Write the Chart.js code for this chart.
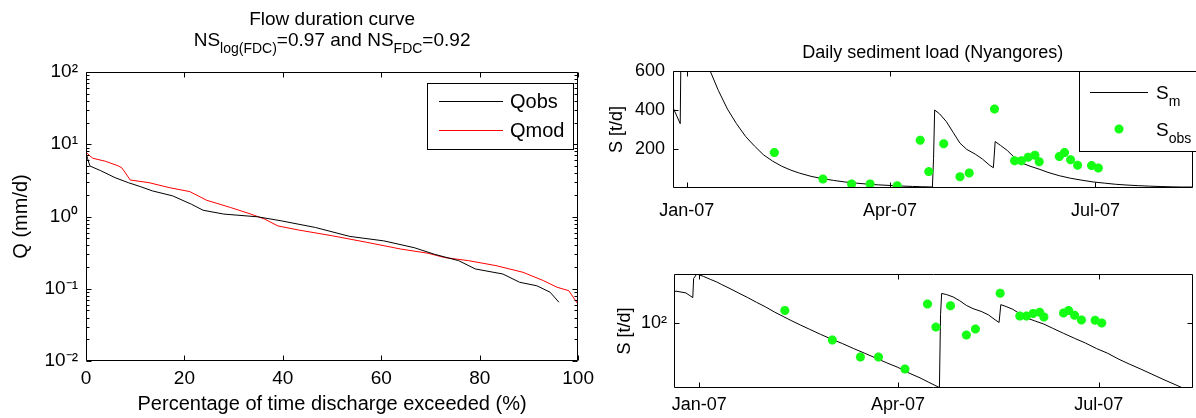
<!DOCTYPE html>
<html>
<head>
<meta charset="utf-8">
<title>Flow duration curve and sediment load</title>
<script src="https://cdn.jsdelivr.net/npm/chart.js@4.4.1/dist/chart.umd.min.js"></script>
<style>
    html, body { margin: 0; padding: 0; background: #fff; overflow: hidden; width: 1196px; height: 418px; }
    canvas { position: absolute; }
    #fdc { left: 0; top: 0; }
    #sedlin { left: 600px; top: 0; }
    #sedlog { left: 600px; top: 230px; }
</style>
</head>
<body>
<canvas id="fdc" width="600" height="418"></canvas>
<canvas id="sedlin" width="600" height="230"></canvas>
<canvas id="sedlog" width="600" height="188"></canvas>
<script>
/* flow duration curve */
var pctObs = [0, 0.3, 0.8, 3, 5.9, 8.6, 11, 13.5, 17.6, 21.4, 23.8, 28, 34.9, 39.7, 46.6, 53.6, 60.5, 66.7, 70.8, 75.7, 79.1, 84.7, 88.1, 91.6, 94.3, 96.1];
var qObs = [7.8, 6.4, 5.0, 4.3, 3.45, 2.94, 2.6, 2.26, 1.93, 1.48, 1.22, 1.08, 0.99, 0.87, 0.705, 0.53, 0.46, 0.37, 0.30, 0.245, 0.188, 0.16, 0.123, 0.11, 0.0895, 0.065];
var pctMod = [0, 0.8, 1.4, 4, 6.6, 7.3, 9, 12.8, 16.9, 21.1, 24.5, 29.4, 33.5, 36.3, 39, 43.2, 50.1, 57, 63.9, 69.5, 72.9, 77.7, 83.3, 88.8, 92.9, 95.7, 98.1, 99.9];
var qMod = [7.8, 6.9, 6.4, 5.8, 5.0, 4.7, 3.2, 2.94, 2.51, 2.21, 1.68, 1.33, 1.08, 0.92, 0.74, 0.65, 0.54, 0.44, 0.355, 0.31, 0.27, 0.245, 0.209, 0.169, 0.13, 0.105, 0.094, 0.062];
var fdcTicks = [0.01, 0.1, 1, 10, 100];
var fdcTickLabels = ['10\u207B\u00B2', '10\u207B\u00B9', '10\u2070', '10\u00B9', '10\u00B2'];

/* daily sediment load, days counted from 1 Jan 2007 */
var dayModel = [-11.4, -10.5, -6, -2.9, -2.5, -1.1, 2, 5, 8, 10, 14, 18, 22, 26, 30, 34, 38, 42, 46, 50, 55, 60, 65, 70, 75, 80, 85, 90, 95, 100, 104, 108.8,
    109.3, 109.8, 112, 115, 118, 121, 124, 128, 131, 134, 135.8, 136.6, 139, 142, 145, 148, 152, 156, 160, 165, 170, 175, 180, 185, 190, 195, 200, 205, 210, 215, 219, 224];
var sModel = [430, 445, 410, 330, 800, 985, 880, 770, 680, 610, 500, 405, 330, 265, 215, 170, 138, 112, 92, 76, 60, 48, 39, 31, 25, 20, 16, 13, 10, 8, 6.5, 5.1,
    150, 400, 380, 340, 285, 230, 198, 172, 148, 118, 104, 238, 218, 192, 158, 130, 112, 97, 80, 63, 50, 40, 31, 25, 19, 15, 12, 9.5, 7.5, 6, 5, 5];
var dayObs = [38.8, 60.3, 73, 81.2, 93.2, 103.4, 107.2, 113.8, 121, 125.1, 136.3, 145.2, 148.2, 151.2, 154.2, 156.1, 165, 167.3, 170, 173.1, 179.3, 182.3];
var sObs = [182, 46, 21, 21, 12, 245, 84, 227, 58, 77, 405, 140, 140, 158, 168, 135, 162, 182, 145, 117, 115, 102];
var dateTicks = [0, 90, 181];
var dateLabels = ['Jan-07', 'Apr-07', 'Jul-07'];

var fontFamily = '"Liberation Sans", Arial, Helvetica, sans-serif';
Chart.defaults.font.family = fontFamily;
Chart.defaults.color = '#000';

function pairs(xs, ys) {
    return xs.map(function (x, i) {
        return { x: x, y: ys[i] };
    });
}

// text with sub/superscript parts: [text, 'sub'|'sup'|'']
function drawRich(ctx, parts, x, y, size, align) {
    var small = Math.round(size * 0.75);
    var w = 0;
    parts.forEach(function (p) {
        ctx.font = (p[1] ? small : size) + 'px ' + fontFamily;
        w += ctx.measureText(p[0]).width;
    });
    var cx = align === 'center' ? x - w / 2 : x;
    parts.forEach(function (p) {
        ctx.font = (p[1] ? small : size) + 'px ' + fontFamily;
        var dy = p[1] === 'sub' ? size * 0.38 : (p[1] === 'sup' ? -size * 0.45 : 0);
        ctx.fillText(p[0], cx, y + dy);
        cx += ctx.measureText(p[0]).width;
    });
}

function drawStar(ctx, x, y, r, color) {
    ctx.save();
    ctx.strokeStyle = color;
    ctx.lineWidth = 3;
    ctx.beginPath();
    for (var k = 0; k < 4; k++) {
        var ang = k * Math.PI / 4;
        ctx.moveTo(x - r * Math.cos(ang), y - r * Math.sin(ang));
        ctx.lineTo(x + r * Math.cos(ang), y + r * Math.sin(ang));
    }
    ctx.stroke();
    ctx.restore();
}

/* matlab style box, inward ticks, legend and title */
var matlabAxes = {
    id: 'matlabAxes',
    afterDatasetsDraw: function (chart, args, opts) {
        var ctx = chart.ctx, a = chart.chartArea;
        var xs = chart.scales.x, ys = chart.scales.y;
        var L = Math.round(a.left) + 0.5, R = Math.round(a.right) - 0.5;
        var T = Math.round(a.top) + 0.5, B = Math.round(a.bottom) - 0.5;
        ctx.save();
        ctx.strokeStyle = '#000';
        ctx.lineWidth = 1;
        ctx.beginPath();
        ctx.moveTo(L, T); ctx.lineTo(R, T); ctx.lineTo(R, B); ctx.lineTo(L, B); ctx.closePath();
        xs.ticks.forEach(function (t) {
            var p = Math.round(xs.getPixelForValue(t.value)) + 0.5;
            ctx.moveTo(p, B); ctx.lineTo(p, B - 5);
            ctx.moveTo(p, T); ctx.lineTo(p, T + 5);
        });
        ys.ticks.forEach(function (t) {
            var p = Math.round(ys.getPixelForValue(t.value)) + 0.5;
            ctx.moveTo(L, p); ctx.lineTo(L + 5, p);
            ctx.moveTo(R, p); ctx.lineTo(R - 5, p);
        });
        if (opts.minor) {
            ys.ticks.slice(0, -1).forEach(function (t) {
                for (var k = 2; k < 10; k++) {
                    var p = Math.round(ys.getPixelForValue(t.value * k)) + 0.5;
                    ctx.moveTo(L, p); ctx.lineTo(L + 3, p);
                    ctx.moveTo(R, p); ctx.lineTo(R - 3, p);
                }
            });
        }
        ctx.stroke();

        var lg = opts.legend;
        if (lg) {
            ctx.fillStyle = '#fff';
            ctx.fillRect(lg.box[0], lg.box[1], lg.box[2], lg.box[3]);
            ctx.strokeRect(lg.box[0] + 0.5, lg.box[1] + 0.5, lg.box[2], lg.box[3]);
            lg.items.forEach(function (it) {
                if (it.kind === 'line') {
                    ctx.strokeStyle = it.color;
                    ctx.beginPath();
                    ctx.moveTo(lg.sample[0], it.y + 0.5);
                    ctx.lineTo(lg.sample[1], it.y + 0.5);
                    ctx.stroke();
                } else {
                    drawStar(ctx, (lg.sample[0] + lg.sample[1]) / 2, it.y, 4.5, it.color);
                }
                ctx.fillStyle = '#000';
                ctx.textBaseline = 'alphabetic';
                drawRich(ctx, it.parts, lg.textX, it.y + lg.size * 0.36, lg.size, 'left');
            });
        }
        ctx.restore();
    },
    afterDraw: function (chart, args, opts) {
        if (!opts.title) return;
        var ctx = chart.ctx, a = chart.chartArea;
        ctx.save();
        ctx.fillStyle = '#000';
        ctx.textBaseline = 'alphabetic';
        opts.title.forEach(function (line) {
            drawRich(ctx, line.parts, (a.left + a.right) / 2, line.y, line.size, 'center');
        });
        ctx.restore();
    }
};

function fixedWidth(w) {
    return function (scale) { scale.width = w; };
}
function fixedHeight(h) {
    return function (scale) { scale.height = h; };
}

/* left: flow duration curve */
new Chart(document.getElementById('fdc'), {
    type: 'line',
    data: {
        datasets: [{
            label: 'Qobs',
            data: pairs(pctObs, qObs),
            borderColor: 'rgb(0, 0, 0)',
            borderWidth: 1,
            pointRadius: 0
        }, {
            label: 'Qmod',
            data: pairs(pctMod, qMod),
            borderColor: 'rgb(255, 0, 0)',
            borderWidth: 1,
            pointRadius: 0
        }]
    },
    options: {
        responsive: false,
        animation: false,
        devicePixelRatio: 1,
        layout: { padding: { left: 0, top: 72, right: 17, bottom: 0 } },
        plugins: {
            legend: { display: false },
            tooltip: { enabled: false },
            matlabAxes: {
                minor: true,
                legend: {
                    box: [427, 83, 146, 66],
                    sample: [439, 503],
                    textX: 510,
                    size: 20,
                    items: [
                        { kind: 'line', color: 'rgb(0, 0, 0)', y: 101, parts: [['Qobs', '']] },
                        { kind: 'line', color: 'rgb(255, 0, 0)', y: 130, parts: [['Qmod', '']] }
                    ]
                },
                title: [
                    { y: 25, size: 19, parts: [['Flow duration curve', '']] },
                    { y: 46, size: 19, parts: [['NS', ''], ['log(FDC)', 'sub'], ['=0.97 and NS', ''], ['FDC', 'sub'], ['=0.92', '']] }
                ]
            }
        },
        scales: {
            x: {
                type: 'linear',
                min: 0,
                max: 100,
                grid: { display: false, drawTicks: false, tickLength: 0 },
                border: { display: false },
                ticks: { stepSize: 20, maxRotation: 0, padding: 6, font: { size: 19 } },
                title: { display: true, text: 'Percentage of time discharge exceeded (%)', font: { size: 20 }, padding: { top: 0, bottom: 2 } },
                afterFit: fixedHeight(57)
            },
            y: {
                type: 'logarithmic',
                min: 0.01,
                max: 100,
                grid: { display: false, drawTicks: false, tickLength: 0 },
                border: { display: false },
                afterBuildTicks: function (scale) {
                    scale.ticks = fdcTicks.map(function (v) { return { value: v }; });
                },
                ticks: {
                    padding: 8,
                    font: { size: 19 },
                    callback: function (v) { return fdcTickLabels[fdcTicks.indexOf(v)]; }
                },
                title: { display: true, text: 'Q (mm/d)', font: { size: 20 }, padding: { top: 9, bottom: 0 } },
                afterFit: fixedWidth(86)
            }
        }
    },
    plugins: [matlabAxes]
});

function dateLabel(v) {
    var i = dateTicks.indexOf(v);
    return i < 0 ? '' : dateLabels[i];
}

/* right top: linear sediment load */
new Chart(document.getElementById('sedlin'), {
    type: 'line',
    data: {
        datasets: [{
            label: 'Sobs',
            data: pairs(dayObs, sObs),
            showLine: false,
            pointStyle: 'star',
            pointRadius: 4.5,
            pointBorderWidth: 3,
            pointBorderColor: 'rgb(20, 255, 20)',
            pointBackgroundColor: 'rgb(20, 255, 20)'
        }, {
            label: 'Sm',
            data: pairs(dayModel, sModel),
            borderColor: 'rgb(0, 0, 0)',
            borderWidth: 1,
            pointRadius: 0
        }]
    },
    options: {
        responsive: false,
        animation: false,
        devicePixelRatio: 1,
        layout: { padding: { left: 0, top: 71, right: 1, bottom: 0 } },
        plugins: {
            legend: { display: false },
            tooltip: { enabled: false },
            matlabAxes: {
                legend: {
                    box: [479, 71, 118, 80],
                    sample: [490, 548],
                    textX: 556,
                    size: 19,
                    items: [
                        { kind: 'line', color: 'rgb(0, 0, 0)', y: 92, parts: [['S', ''], ['m', 'sub']] },
                        { kind: 'point', color: 'rgb(20, 255, 20)', y: 129, parts: [['S', ''], ['obs', 'sub']] }
                    ]
                },
                title: [
                    { y: 58, size: 18, parts: [['Daily sediment load (Nyangores)', '']] }
                ]
            }
        },
        scales: {
            x: {
                type: 'linear',
                min: -6.1,
                max: 224,
                grid: { display: false, drawTicks: false, tickLength: 0 },
                border: { display: false },
                afterBuildTicks: function (scale) {
                    scale.ticks = dateTicks.map(function (v) { return { value: v }; });
                },
                ticks: { maxRotation: 0, padding: 12, font: { size: 18 }, callback: dateLabel },
                afterFit: fixedHeight(42)
            },
            y: {
                type: 'linear',
                min: 0,
                max: 600,
                grid: { display: false, drawTicks: false, tickLength: 0 },
                border: { display: false },
                afterBuildTicks: function (scale) {
                    scale.ticks = [200, 400, 600].map(function (v) { return { value: v }; });
                },
                ticks: { padding: 8, font: { size: 18 } },
                title: { display: true, text: 'S [t/d]', font: { size: 18 }, padding: { top: 6, bottom: 0 } },
                afterFit: fixedWidth(73)
            }
        }
    },
    plugins: [matlabAxes]
});

/* right bottom: log sediment load */
new Chart(document.getElementById('sedlog'), {
    type: 'line',
    data: {
        datasets: [{
            label: 'Sobs',
            data: pairs(dayObs, sObs),
            showLine: false,
            pointStyle: 'star',
            pointRadius: 4.5,
            pointBorderWidth: 3,
            pointBorderColor: 'rgb(20, 255, 20)',
            pointBackgroundColor: 'rgb(20, 255, 20)'
        }, {
            label: 'Sm',
            data: pairs(dayModel, sModel),
            borderColor: 'rgb(0, 0, 0)',
            borderWidth: 1,
            pointRadius: 0
        }]
    },
    options: {
        responsive: false,
        animation: false,
        devicePixelRatio: 1,
        layout: { padding: { left: 0, top: 44, right: 1, bottom: 0 } },
        plugins: {
            legend: { display: false },
            tooltip: { enabled: false },
            matlabAxes: {}
        },
        scales: {
            x: {
                type: 'linear',
                min: -11.4,
                max: 223.4,
                grid: { display: false, drawTicks: false, tickLength: 0 },
                border: { display: false },
                afterBuildTicks: function (scale) {
                    scale.ticks = dateTicks.map(function (v) { return { value: v }; });
                },
                ticks: { maxRotation: 0, padding: 6, font: { size: 18 }, callback: dateLabel },
                afterFit: fixedHeight(30)
            },
            y: {
                type: 'logarithmic',
                min: 5,
                max: 985,
                grid: { display: false, drawTicks: false, tickLength: 0 },
                border: { display: false },
                afterBuildTicks: function (scale) {
                    scale.ticks = [{ value: 100 }];
                },
                ticks: { padding: 7, font: { size: 18 }, callback: function () { return '10\u00B2'; } },
                title: { display: true, text: 'S [t/d]', font: { size: 18 }, padding: { top: 14, bottom: 0 } },
                afterFit: fixedWidth(74)
            }
        }
    },
    plugins: [matlabAxes]
});
</script>
</body>
</html>
